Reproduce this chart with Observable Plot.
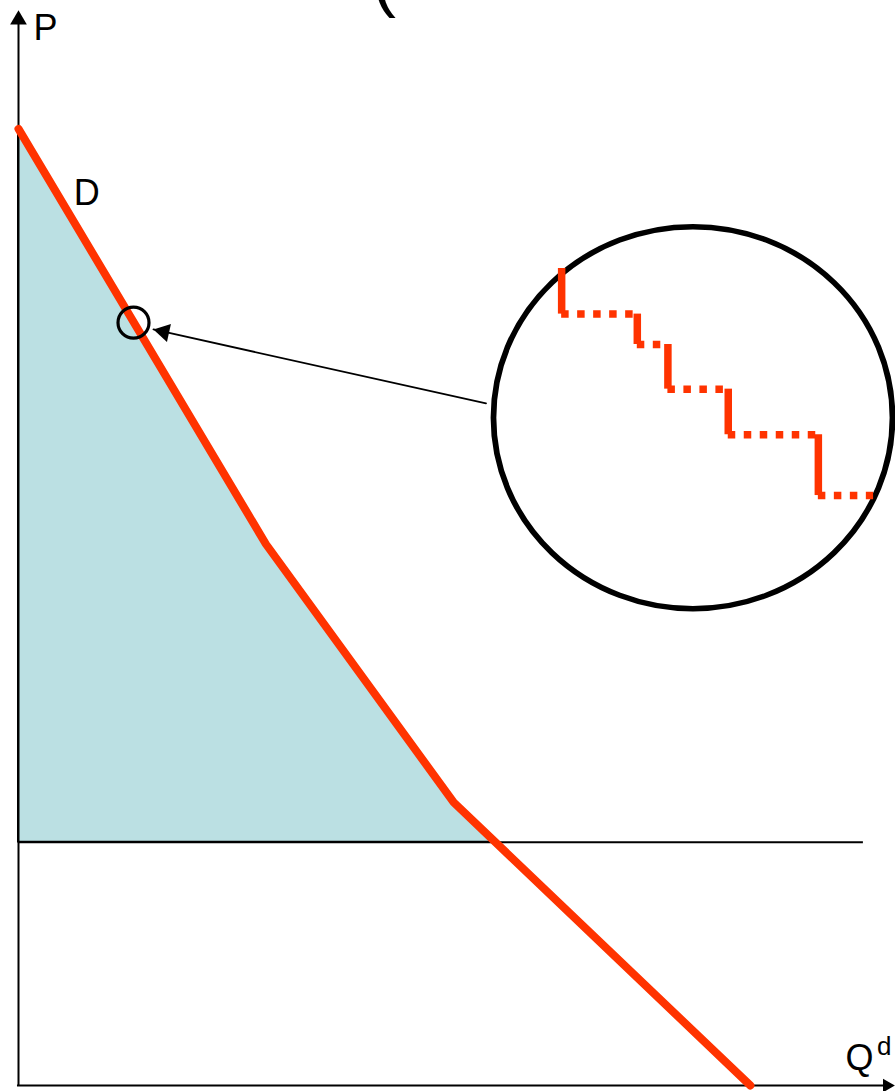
<!DOCTYPE html>
<html><head><meta charset="utf-8">
<script src="https://cdn.jsdelivr.net/npm/d3@7"></script>
<script src="https://cdn.jsdelivr.net/npm/@observablehq/plot@0.6"></script>
<style>html,body{margin:0;padding:0;background:#fff;overflow:hidden}</style>
</head><body><div id="chart"></div>
<script>
// Demand curve (Q, P) in chart units
const demandQ = [0, 29.1, 51.2, 86.1];
const demandP = [100.7, 57.0, 29.8, 0];
// Price level and shaded surplus region boundary
const priceLevel = 25.6;
const priceLineEndQ = 99.4;
const surplusQ = [56.4, 51.2, 29.1, 0];
const surplusP = [25.6, 29.8, 57.0, 100.7];
// Axis extents
const axisTopP = 113.2;
const axisEndQ = 103.1;
// Magnifier: small circle on the curve, big inset circle, pointer arrow
const markerQ = [13.53], markerP = [80.3];
const insetQ = [79.35], insetP = [70.3];
const pointerQ = [55.0, 15.88], pointerP = [71.8, 79.58];
// Staircase inside the inset
const stairQ = [63.9, 72.8, 76.4, 83.5, 94.1, 100.6];
const stairP = [86.0, 81.2, 78.0, 73.3, 68.5, 62.1];
// Labels
const labelText = ["P", "D", "Q"];
const labelQ = [1.76, 6.5, 97.3];
const labelP = [110.1, 92.7, 1.6];
const supText = ["d"], supQ = [101.0], supP = [3.2];
const titleText = ["("], titleQ = [41.6], titleP = [114.0];

const red = "#FF3300";
const font = "'Liberation Sans', Arial, Helvetica, sans-serif";
const pts = (Q, P) => Q.map((q, i) => ({q, p: P[i]}));

const verticals = stairQ.slice(0, 5).map((q, i) => ({q, p1: stairP[i], p2: stairP[i + 1]}));
const horizontals = stairQ.slice(0, 5).map((q, i) => ({q1: q, q2: stairQ[i + 1], p: stairP[i + 1]}));

const chart = Plot.plot({
  width: 895, height: 1091, margin: 0,
  x: {domain: [0, 100], range: [18, 868], axis: null},
  y: {domain: [0, 100], range: [1085, 135], axis: null},
  style: {background: "white", fontFamily: font, overflow: "visible"},
  marks: [
    Plot.areaX(pts(surplusQ, surplusP), {y: "p", x1: 0, x2: "q", fill: "#BBE0E3", stroke: "black", strokeWidth: 2}),
    Plot.ruleY([priceLevel], {x1: 0, x2: priceLineEndQ, stroke: "black", strokeWidth: 2}),
    Plot.ruleX([0], {y1: 0, y2: axisTopP - 1, stroke: "black", strokeWidth: 2}),
    Plot.ruleY([0], {x1: -0.12, x2: axisEndQ - 1, stroke: "black", strokeWidth: 2}),
    Plot.dot([{q: 0, p: axisTopP}], {x: "q", y: "p", symbol: "triangle", r: 6.2, fill: "black", stroke: "none", dy: 9.7}),
    Plot.dot([{q: axisEndQ, p: 0}], {x: "q", y: "p", symbol: "triangle", r: 5.1, rotate: 90, fill: "black", stroke: "none", dx: -7.9}),
    Plot.line(pts(demandQ, demandP), {x: "q", y: "p", stroke: red, strokeWidth: 8}),
    Plot.dot(pts(markerQ, markerP), {x: "q", y: "p", r: 15.5, stroke: "black", strokeWidth: 3.2, fill: "none"}),
    Plot.line(pts(pointerQ, pointerP), {x: "q", y: "p", stroke: "black", strokeWidth: 1.8}),
    Plot.dot([{q: pointerQ[1], p: pointerP[1]}], {x: "q", y: "p", symbol: "triangle", r: 6.8, rotate: -77.5, fill: "black", stroke: "none", dx: 10.3, dy: 2.3}),
    Plot.dot(pts(insetQ, insetP), {x: "q", y: "p", r: 191, stroke: "black", strokeWidth: 5.5, fill: "none"}),
    Plot.ruleX(verticals, {x: "q", y1: "p1", y2: "p2", stroke: red, strokeWidth: 7.5}),
    Plot.ruleY(horizontals, {y: "p", x1: "q1", x2: "q2", stroke: red, strokeWidth: 7.5, strokeDasharray: "7.5,8.5"}),
    Plot.text(labelText.map((t, i) => ({t, q: labelQ[i], p: labelP[i]})), {x: "q", y: "p", text: "t", fontSize: 36, textAnchor: "start", lineAnchor: "bottom", fill: "black", fontFamily: font}),
    Plot.text(supText.map((t, i) => ({t, q: supQ[i], p: supP[i]})), {x: "q", y: "p", text: "t", fontSize: 26, textAnchor: "start", lineAnchor: "bottom", fill: "black", fontFamily: font}),
    Plot.text(titleText.map((t, i) => ({t, q: titleQ[i], p: titleP[i]})), {x: "q", y: "p", text: "t", fontSize: 72, textAnchor: "start", lineAnchor: "bottom", fill: "black", fontFamily: font})
  ]
});

// Inset is slightly elliptical: stretch the big circle horizontally
d3.select(chart).selectAll("circle").each(function () {
  const r = +this.getAttribute("r");
  if (Math.abs(r - 191) < 0.01) {
    const cx = +this.getAttribute("cx") || 0, cy = +this.getAttribute("cy") || 0;
    this.setAttribute("transform", `translate(${cx},${cy}) scale(${199.5 / 191},1) translate(${-cx},${-cy})`);
  }
});

document.getElementById("chart").appendChild(chart);
</script>
</body></html>
